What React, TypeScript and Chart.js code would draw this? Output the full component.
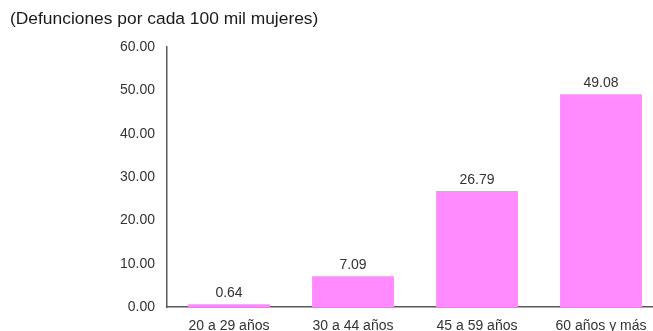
import React, { useEffect, useRef } from "react";
import { Chart, registerables } from "chart.js";

Chart.register(...registerables);

const categories = ["20 a 29 años", "30 a 44 años", "45 a 59 años", "60 años y más"];
const values = [0.64, 7.09, 26.79, 49.08];
const titleText = "(Defunciones por cada 100 mil mujeres)";
const yMin = 0;
const yMax = 60;
const yStep = 10;

const FONT = "'Liberation Sans', Arial, sans-serif";

const labelPlugin = {
  id: "valueLabels",
  afterDatasetsDraw(chart: any) {
    const ctx = chart.ctx;
    const meta = chart.getDatasetMeta(0);
    ctx.save();
    ctx.font = `14px ${FONT}`;
    ctx.fillStyle = "#333333";
    ctx.textAlign = "center";
    ctx.textBaseline = "bottom";
    meta.data.forEach((bar: any, i: number) => {
      ctx.fillText(values[i].toFixed(2), bar.x, bar.y - 4);
    });
    ctx.restore();
  },
};

const titlePlugin = {
  id: "manualTitle",
  afterDraw(chart: any) {
    const ctx = chart.ctx;
    ctx.save();
    ctx.font = `17.4px ${FONT}`;
    ctx.fillStyle = "#1a1a1a";
    ctx.textAlign = "left";
    ctx.textBaseline = "middle";
    ctx.fillText(titleText, 10, 19);
    ctx.restore();
  },
};

export default function App() {
  const ref = useRef<HTMLCanvasElement>(null);
  useEffect(() => {
    if (!ref.current) return;
    const chart = new Chart(ref.current, {
      type: "bar",
      data: {
        labels: categories,
        datasets: [
          {
            data: values,
            backgroundColor: "#FF8AFF",
            categoryPercentage: 1,
            barPercentage: 0.66,
          },
        ],
      },
      options: {
        responsive: false,
        animation: false,
        devicePixelRatio: 1,
        layout: { padding: { top: 47, right: 7, left: 0, bottom: 0 } },
        plugins: { legend: { display: false }, tooltip: { enabled: false }, title: { display: false } },
        scales: {
          x: {
            grid: { display: false, drawTicks: false },
            border: { display: true, color: "#595959", width: 1.5 },
            ticks: { color: "#333333", font: { family: FONT, size: 14 }, padding: 11, maxRotation: 0 },
            afterFit(scale: any) {
              scale.height = 24;
            },
          },
          y: {
            min: yMin,
            max: yMax,
            grid: { display: false, drawTicks: false },
            border: { display: true, color: "#595959", width: 1.5 },
            ticks: {
              stepSize: yStep,
              color: "#333333",
              font: { family: FONT, size: 14 },
              padding: 12,
              callback: (v: any) => Number(v).toFixed(2),
            },
            afterFit(scale: any) {
              scale.width = 167;
            },
          },
        },
      },
      plugins: [labelPlugin, titlePlugin],
    });
    return () => chart.destroy();
  }, []);
  return (
    <div style={{ position: "fixed", left: 0, top: 0, width: 653, height: 331, overflow: "hidden", background: "#fff" }}>
      <canvas ref={ref} width={670} height={331} style={{ display: "block", width: 670, height: 331 }} />
    </div>
  );
}
